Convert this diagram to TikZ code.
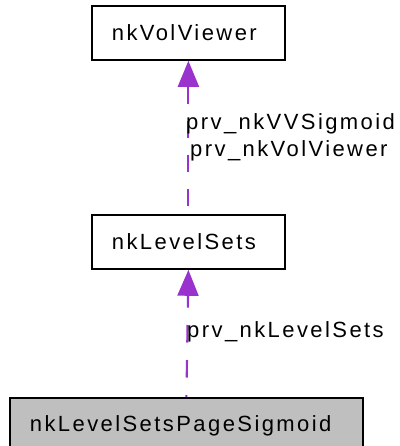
\documentclass[tikz,border=0pt]{standalone}
\usepackage{fontspec}
\setmainfont{Liberation Sans}[LetterSpace=11]
\usetikzlibrary{arrows.meta}
\definecolor{deppurple}{HTML}{9A32CD}
\definecolor{boxgray}{HTML}{BFBFBF}
\begin{document}
\begin{tikzpicture}[x=1pt,y=-1pt,
  every node/.style={font=\fontsize{22}{27}\selectfont},
  classbox/.style={draw=black, line width=1.8pt, fill=white, anchor=north west,
    minimum height=54pt, text width=153pt, inner xsep=20pt, inner ysep=0pt,
    align=left, text height=16pt, text depth=0pt},
  dep/.style={draw=deppurple, line width=2.1pt,
    -{Triangle[length=26pt,width=21pt]}},
  lbl/.style={anchor=base west, inner sep=0pt}]
\useasboundingbox (0,0) rectangle (399,446);
\node[classbox] (top) at (91,5) {nkVolViewer};
\node[classbox] (mid) at (91,214) {nkLevelSets};
\node[classbox, fill=boxgray, minimum height=55pt, text width=313pt, text depth=4pt] (bot) at (9,397) {nkLevelSetsPageSigmoid};
\draw[dep, dash pattern=on 17pt off 17pt, dash phase=26pt] (mid.north) -- (top.south);
\draw[dep, dash pattern=on 17.5pt off 17.5pt, dash phase=15.5pt] (bot.north) -- (mid.south);
\node[lbl] (l1) at (186,130) {prv\_nkVVSigmoid};
\node[lbl] (l2) at (190,157) {prv\_nkVolViewer};
\node[lbl] (l3) at (187,337) {prv\_nkLevelSets};
\end{tikzpicture}
\end{document}
